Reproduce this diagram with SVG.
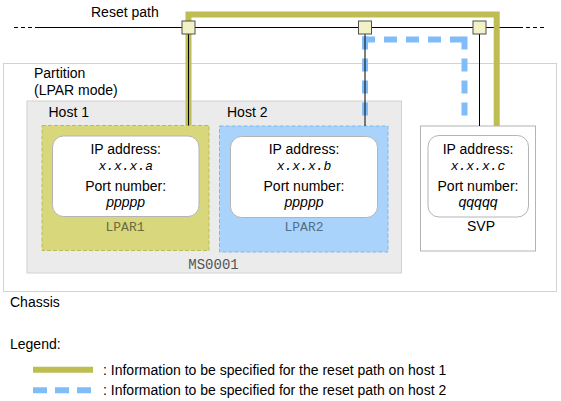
<svg xmlns="http://www.w3.org/2000/svg" width="561" height="401" viewBox="0 0 561 401">
<style>
text{font-family:"Liberation Sans",Arial,sans-serif;font-size:14px;fill:#000}
.c{text-anchor:middle}
.it{font-style:italic}
.mono{font-family:"Liberation Mono","Courier New",monospace;font-size:13px}
.inner{fill:#fff;stroke:#b4b4b4;stroke-width:1}
.sq{fill:#f2f2c6;stroke:#505050;stroke-width:1}
.olive{fill:none;stroke:#bdbd52;stroke-width:6;stroke-linejoin:miter}
.blue{fill:none;stroke:#80bdf8;stroke-width:6;stroke-linecap:square;stroke-dasharray:7 15}
.thin{fill:none;stroke:#000;stroke-width:1}
</style>
<g id="chassis">
<rect x="3.5" y="63.5" width="553" height="228" fill="#fff" stroke="#d2d2d2"/>
<text x="34" y="78">Partition</text>
<text x="34" y="95">(LPAR mode)</text>
<text x="10" y="306.5">Chassis</text>
</g>
<g id="ms0001">
<rect x="27" y="101" width="374.5" height="172" fill="#ebebeb" stroke="#d2d2d2"/>
<text x="48.5" y="116.7">Host 1</text>
<text x="227" y="117">Host 2</text>
<text class="c mono" x="213.5" y="268.5" style="font-size:14px;fill:#555">MS0001</text>
</g>
<g id="lpar1">
<rect x="42" y="125.5" width="167" height="125" fill="#d9d77c" stroke="#bcbc55" stroke-dasharray="4 2"/>
<rect class="inner" x="52.5" y="136" width="146.5" height="80.5" rx="11"/>
<text class="c" x="125.7" y="153.5">IP address:</text>
<text class="c mono it" x="125.7" y="169.5">x.x.x.a</text>
<text class="c" x="125.7" y="190.5">Port number:</text>
<text class="c it" x="125.7" y="206.5">ppppp</text>
<text class="c mono" x="125" y="230.5" style="fill:#6b6b40">LPAR1</text>
</g>
<g id="lpar2">
<rect x="219.5" y="126" width="168.5" height="126" fill="#a9d3fb" stroke="#78b8f4" stroke-dasharray="4 2"/>
<rect class="inner" x="230.5" y="136.5" width="147" height="81" rx="11"/>
<text class="c" x="304" y="153.5">IP address:</text>
<text class="c mono it" x="304" y="169.5">x.x.x.b</text>
<text class="c" x="304" y="190.5">Port number:</text>
<text class="c it" x="304" y="206.5">ppppp</text>
<text class="c mono" x="304" y="231" style="fill:#4f6f8c">LPAR2</text>
</g>
<g id="svp">
<rect x="420.5" y="126" width="115" height="125" fill="#fff" stroke="#b4b4b4"/>
<rect class="inner" x="428" y="135.5" width="100.5" height="81.5" rx="11"/>
<text class="c" x="478" y="153.5">IP address:</text>
<text class="c mono it" x="478" y="169.5">x.x.x.c</text>
<text class="c" x="478" y="190.5">Port number:</text>
<text class="c it" x="478" y="206.5">qqqqq</text>
<text class="c" x="481" y="231">SVP</text>
</g>
<g id="connectors">
<line x1="36" y1="27.5" x2="519" y2="27.5" stroke="#000" stroke-width="1"/>
<line x1="14" y1="27.5" x2="36" y2="27.5" stroke="#000" stroke-width="1" stroke-dasharray="4 3"/>
<line x1="519" y1="27.5" x2="544" y2="27.5" stroke="#000" stroke-width="1" stroke-dasharray="4 3"/>
<path class="olive" d="M188.5,125.5 V14.5 H496.7 V126"/>
<line class="blue" x1="365" y1="39.5" x2="464.5" y2="39.5"/>
<line class="blue" x1="365" y1="39.5" x2="365" y2="123"/>
<line class="blue" x1="464.5" y1="39.5" x2="464.5" y2="122.5"/>
<line class="thin" x1="188.5" y1="34" x2="188.5" y2="125.5"/>
<line class="thin" x1="365" y1="34" x2="365" y2="126"/>
<line class="thin" x1="479.5" y1="34" x2="479.5" y2="126"/>
</g>
<g id="ports">
<rect class="sq" x="182" y="21" width="13" height="13"/>
<rect class="sq" x="358.5" y="21" width="13" height="13"/>
<rect class="sq" x="473" y="21" width="13" height="13"/>
</g>
<g id="labels">
<text x="91" y="17">Reset path</text>
</g>
<g id="legend">
<text x="10" y="349.3">Legend:</text>
<line x1="33" y1="369.7" x2="93" y2="369.7" stroke="#bdbd52" stroke-width="6"/>
<text x="103" y="375">: Information to be specified for the reset path on host 1</text>
<line x1="33" y1="390.3" x2="92" y2="390.3" stroke="#80bdf8" stroke-width="6" stroke-dasharray="14 8"/>
<text x="103" y="395">: Information to be specified for the reset path on host 2</text>
</g>
</svg>
